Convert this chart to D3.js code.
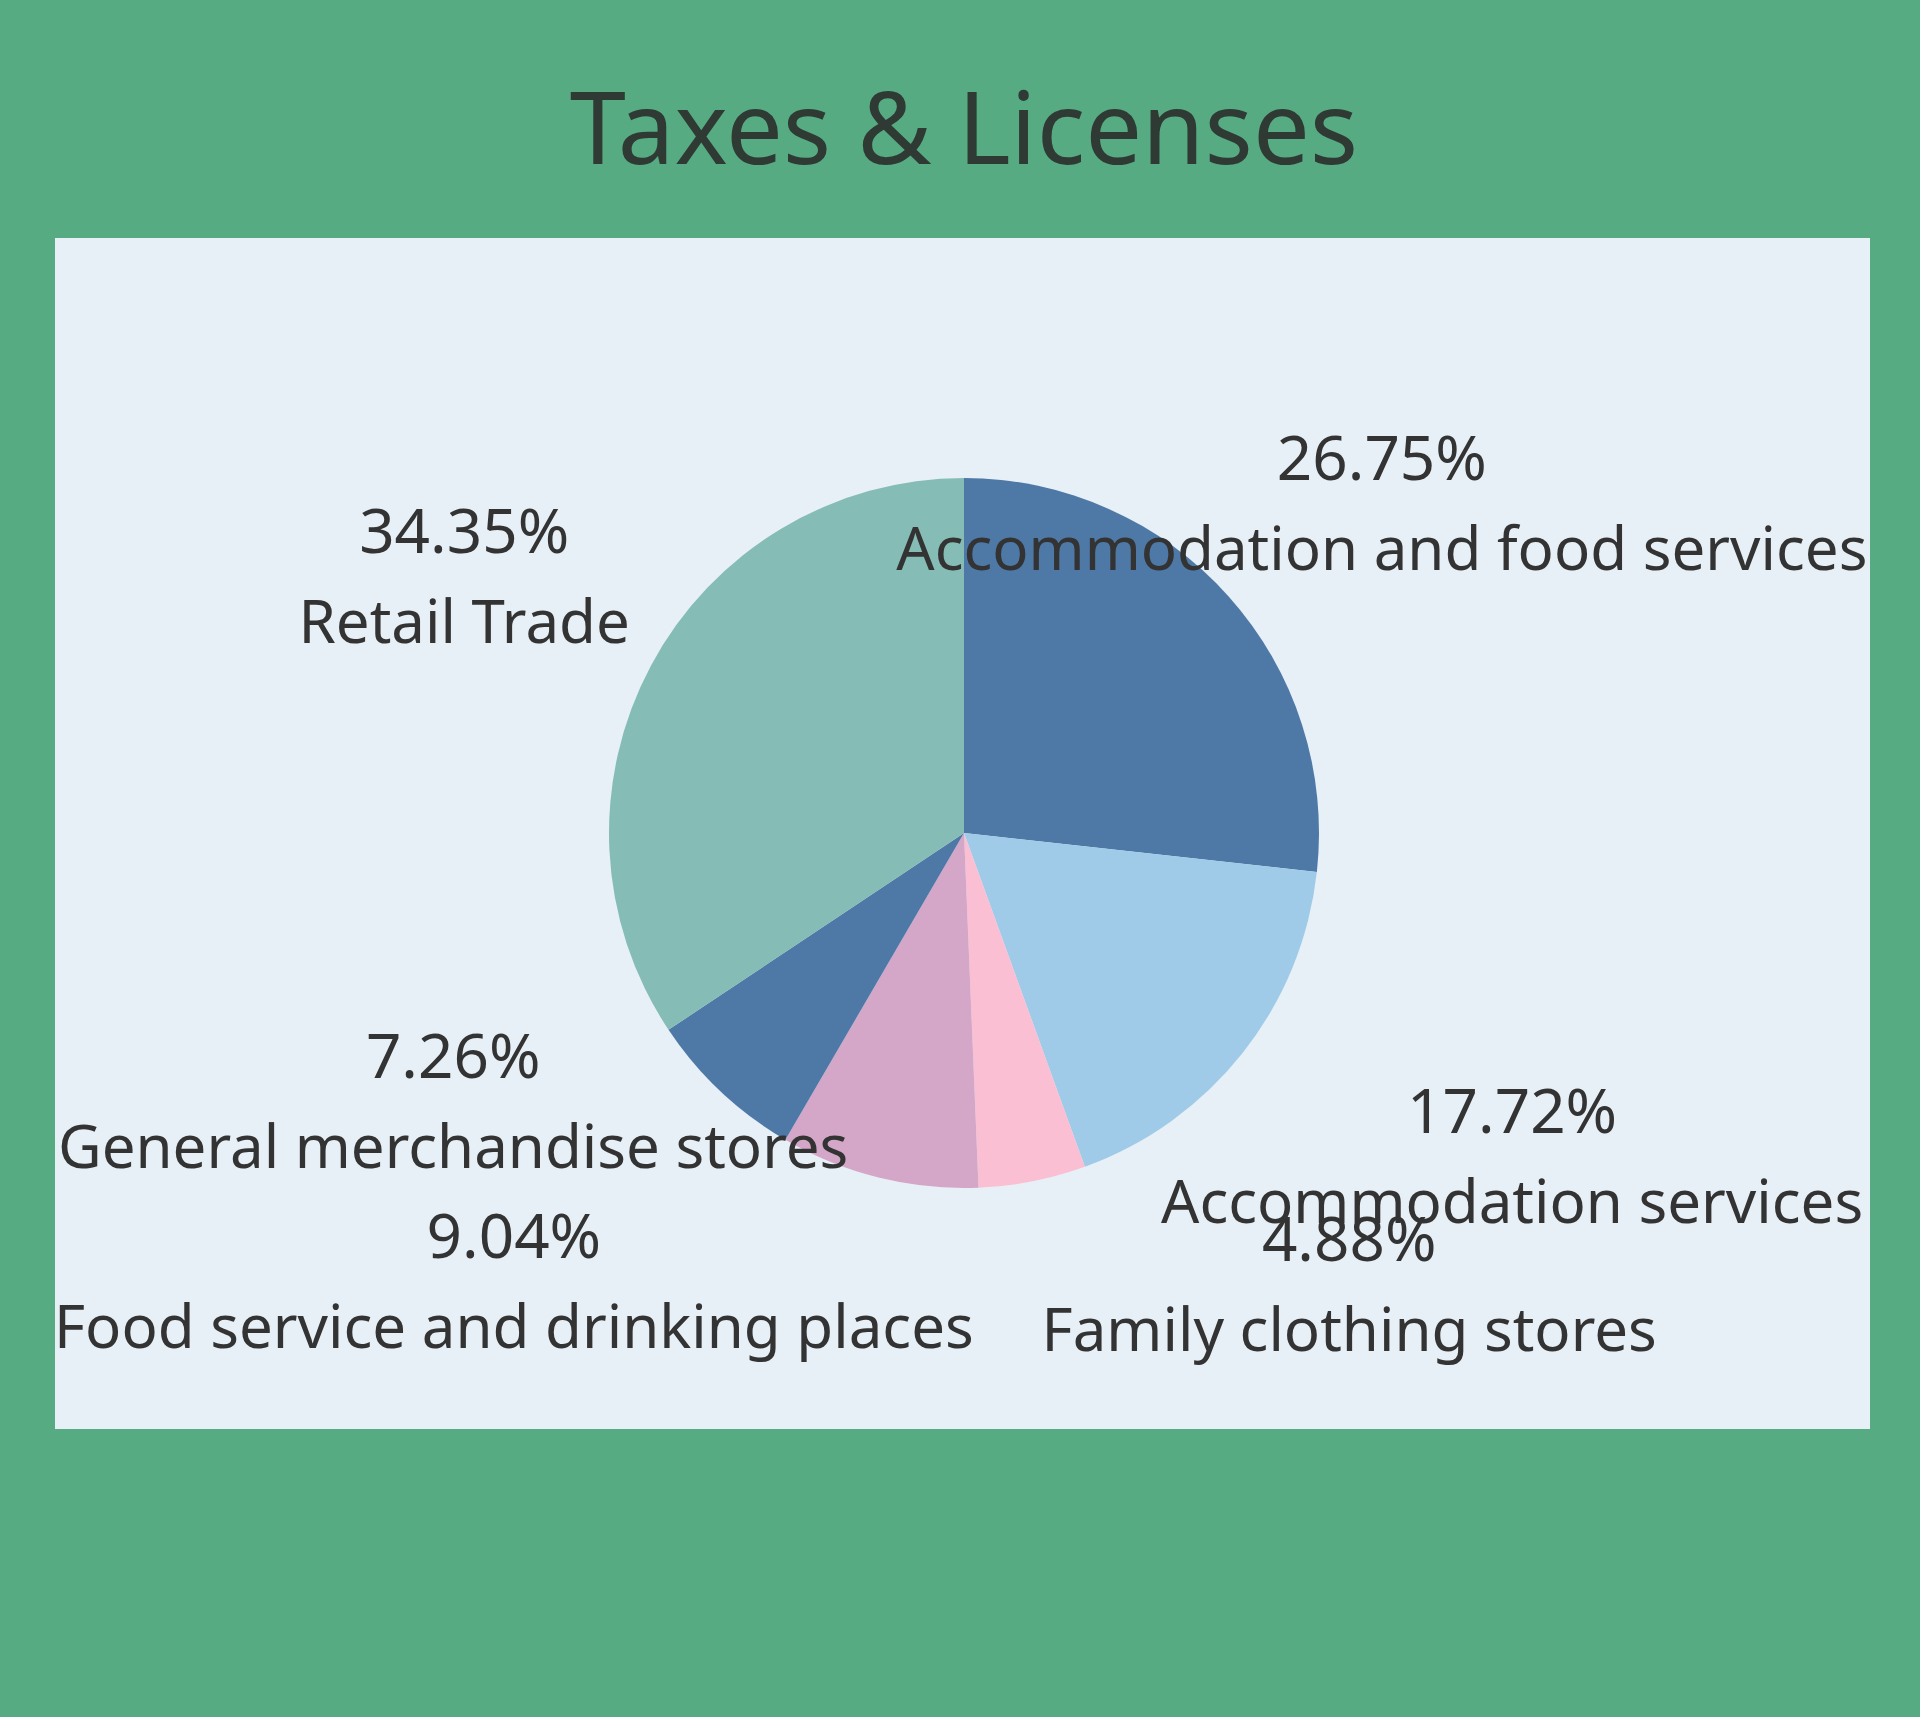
<!DOCTYPE html>
<html>
<head>
<meta charset="utf-8">
<script src="https://cdn.jsdelivr.net/npm/d3@7"></script>
<style>
  html, body { margin: 0; padding: 0; background: #57ab82; }
  svg { display: block; }
  text { font-family: "Noto Sans", "Open Sans", sans-serif; fill: #333; }
</style>
</head>
<body>
<div id="chart"></div>
<script>
// slice order follows the reference, clockwise from 12 o'clock
var categories = [
  'Accommodation and food services',
  'Accommodation services',
  'Family clothing stores',
  'Food service and drinking places',
  'General merchandise stores',
  'Retail Trade'
];
var shares = [26.75, 17.72, 4.88, 9.04, 7.26, 34.35];
var sliceColors = ['#4e79a7', '#a0cbe8', '#fabfd2', '#d4a6c8', '#4e79a7', '#86bcb6'];

// where each label block sits, as offsets from the pie centre (in radii)
var labelSpots = [
  [1.177, -0.994],
  [1.544, 0.845],
  [1.085, 1.206],
  [-1.268, 1.197],
  [-1.439, 0.690],
  [-1.408, -0.789]
];

var width = 1920, height = 1717;
var panel = { x: 55, y: 238, w: 1815, h: 1191 };
var cx = 964, cy = 833, radius = 355;

var svg = d3.select('#chart')
  .append('svg')
  .attr('width', width)
  .attr('height', height);

svg.append('rect')
  .attr('width', width)
  .attr('height', height)
  .attr('fill', '#57ab82');

svg.append('text')
  .attr('x', 964)
  .attr('y', 164)
  .attr('text-anchor', 'middle')
  .style('font-size', '101px')
  .style('fill', '#2e3a33')
  .text('Taxes & Licenses');

svg.append('rect')
  .attr('x', panel.x)
  .attr('y', panel.y)
  .attr('width', panel.w)
  .attr('height', panel.h)
  .attr('fill', '#e7f0f6');

var rows = categories.map(function(c, i){
  return { name: c, value: shares[i], color: sliceColors[i], spot: labelSpots[i] };
});

var pie = d3.pie()
  .sort(null)
  .value(function(d){ return d.value });

var arc = d3.arc()
  .innerRadius(0)
  .outerRadius(radius);

var g = svg.append('g')
  .attr('transform', 'translate(' + cx + ',' + cy + ')');

g.selectAll('path')
  .data(pie(rows))
  .enter()
  .append('path')
  .attr('d', arc)
  .attr('fill', function(d){ return d.data.color });

var fmt = function(v){ return v.toFixed(2) + '%' };

var labels = g.selectAll('g.label')
  .data(rows)
  .enter()
  .append('g')
  .attr('class', 'label')
  .attr('transform', function(d){
    return 'translate(' + (d.spot[0] * radius) + ',' + (d.spot[1] * radius) + ')';
  });

labels.append('text')
  .attr('text-anchor', 'middle')
  .style('font-size', '62px')
  .text(function(d){ return fmt(d.value) });

labels.append('text')
  .attr('text-anchor', 'middle')
  .attr('y', 90)
  .style('font-size', '60px')
  .text(function(d){ return d.name });
</script>
</body>
</html>
